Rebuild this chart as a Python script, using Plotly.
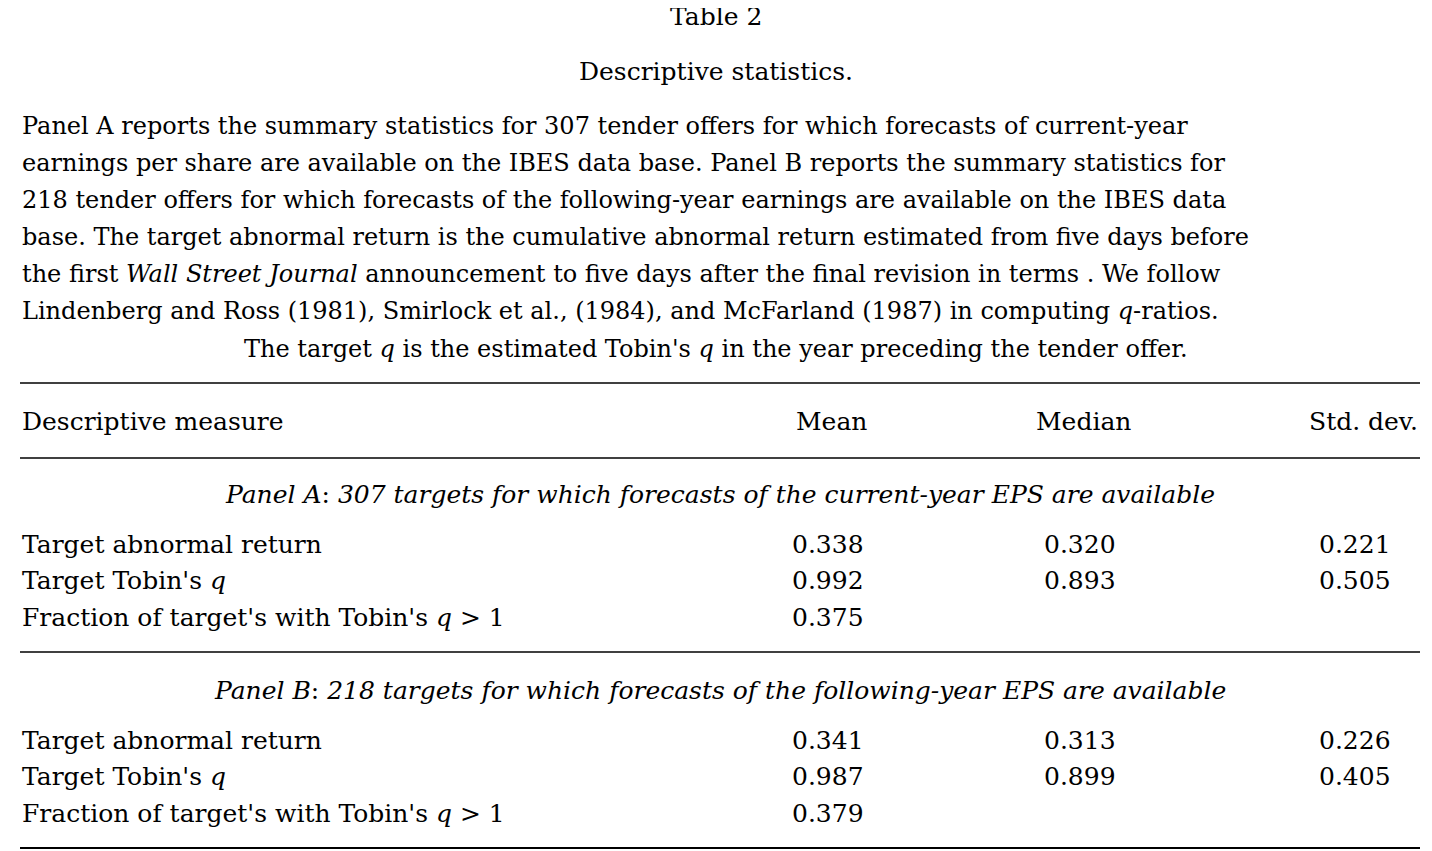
import plotly.graph_objects as go

title = "Table 2"
subtitle = "Descriptive statistics."
caption_lines = [
    "Panel A reports the summary statistics for 307 tender offers for which forecasts of current-year",
    "earnings per share are available on the IBES data base. Panel B reports the summary statistics for",
    "218 tender offers for which forecasts of the following-year earnings are available on the IBES data",
    "base. The target abnormal return is the cumulative abnormal return estimated from five days before",
    "the first <i>Wall Street Journal</i> announcement to five days after the final revision in terms . We follow",
    "Lindenberg and Ross (1981), Smirlock et al., (1984), and McFarland (1987) in computing <i>q</i>-ratios.",
]
caption_last = "The target <i>q</i> is the estimated Tobin's <i>q</i> in the year preceding the tender offer."
headers = ["Descriptive measure", "Mean", "Median", "Std. dev."]
row_labels = ["Target abnormal return", "Target Tobin's <i>q</i>", "Fraction of target's with Tobin's <i>q</i> > 1"]
panel_titles = ["<i>Panel A</i>: <i>307 targets for which forecasts of the current-year EPS are available</i>",
                "<i>Panel B</i>: <i>218 targets for which forecasts of the following-year EPS are available</i>"]
panel_a_mean = ["0.338", "0.992", "0.375"]
panel_a_median = ["0.320", "0.893", ""]
panel_a_std = ["0.221", "0.505", ""]
panel_b_mean = ["0.341", "0.987", "0.379"]
panel_b_median = ["0.313", "0.899", ""]
panel_b_std = ["0.226", "0.405", ""]

F = "DejaVu Serif"
S = 25
fig = go.Figure()
ann = []
def t(x, y, s, anchor="center", size=S):
    ann.append(dict(x=x, y=y, text=s, xref="x", yref="y", showarrow=False,
                    xanchor=anchor, yanchor="middle", font=dict(family=F, size=size, color="black")))

t(716, 16, title)
t(716, 71, subtitle)
for i, l in enumerate(caption_lines):
    t(20, 126 + 37 * i, l, "left", 24)
t(716, 349, caption_last, "center", 24)
t(20, 421, headers[0], "left")
t(831, 421, headers[1])
t(1083, 421, headers[2])
t(1420, 421, headers[3], "right")

panels = [(panel_a_mean, panel_a_median, panel_a_std), (panel_b_mean, panel_b_median, panel_b_std)]
for p, (m, md, sd) in enumerate(panels):
    base = 494 + 196 * p
    t(720, base, panel_titles[p])
    for r in range(3):
        y = base + 50 + 36.5 * r
        t(20, y, row_labels[r], "left")
        t(866, y, m[r], "right")
        t(1118, y, md[r], "right")
        t(1393, y, sd[r], "right")

shapes = [dict(type="line", x0=20, x1=1420, y0=y, y1=y, xref="x", yref="y",
               line=dict(color="black", width=w)) for y, w in [(383, 1.5), (458, 1.5), (652, 1.5), (848, 2)]]

fig.update_layout(width=1432, height=851, margin=dict(l=0, r=0, t=0, b=0),
                  plot_bgcolor="white", paper_bgcolor="white",
                  xaxis=dict(range=[8, 1440], visible=False),
                  yaxis=dict(range=[859, 8], visible=False),
                  annotations=ann, shapes=shapes)
fig.write_html("out.html")
